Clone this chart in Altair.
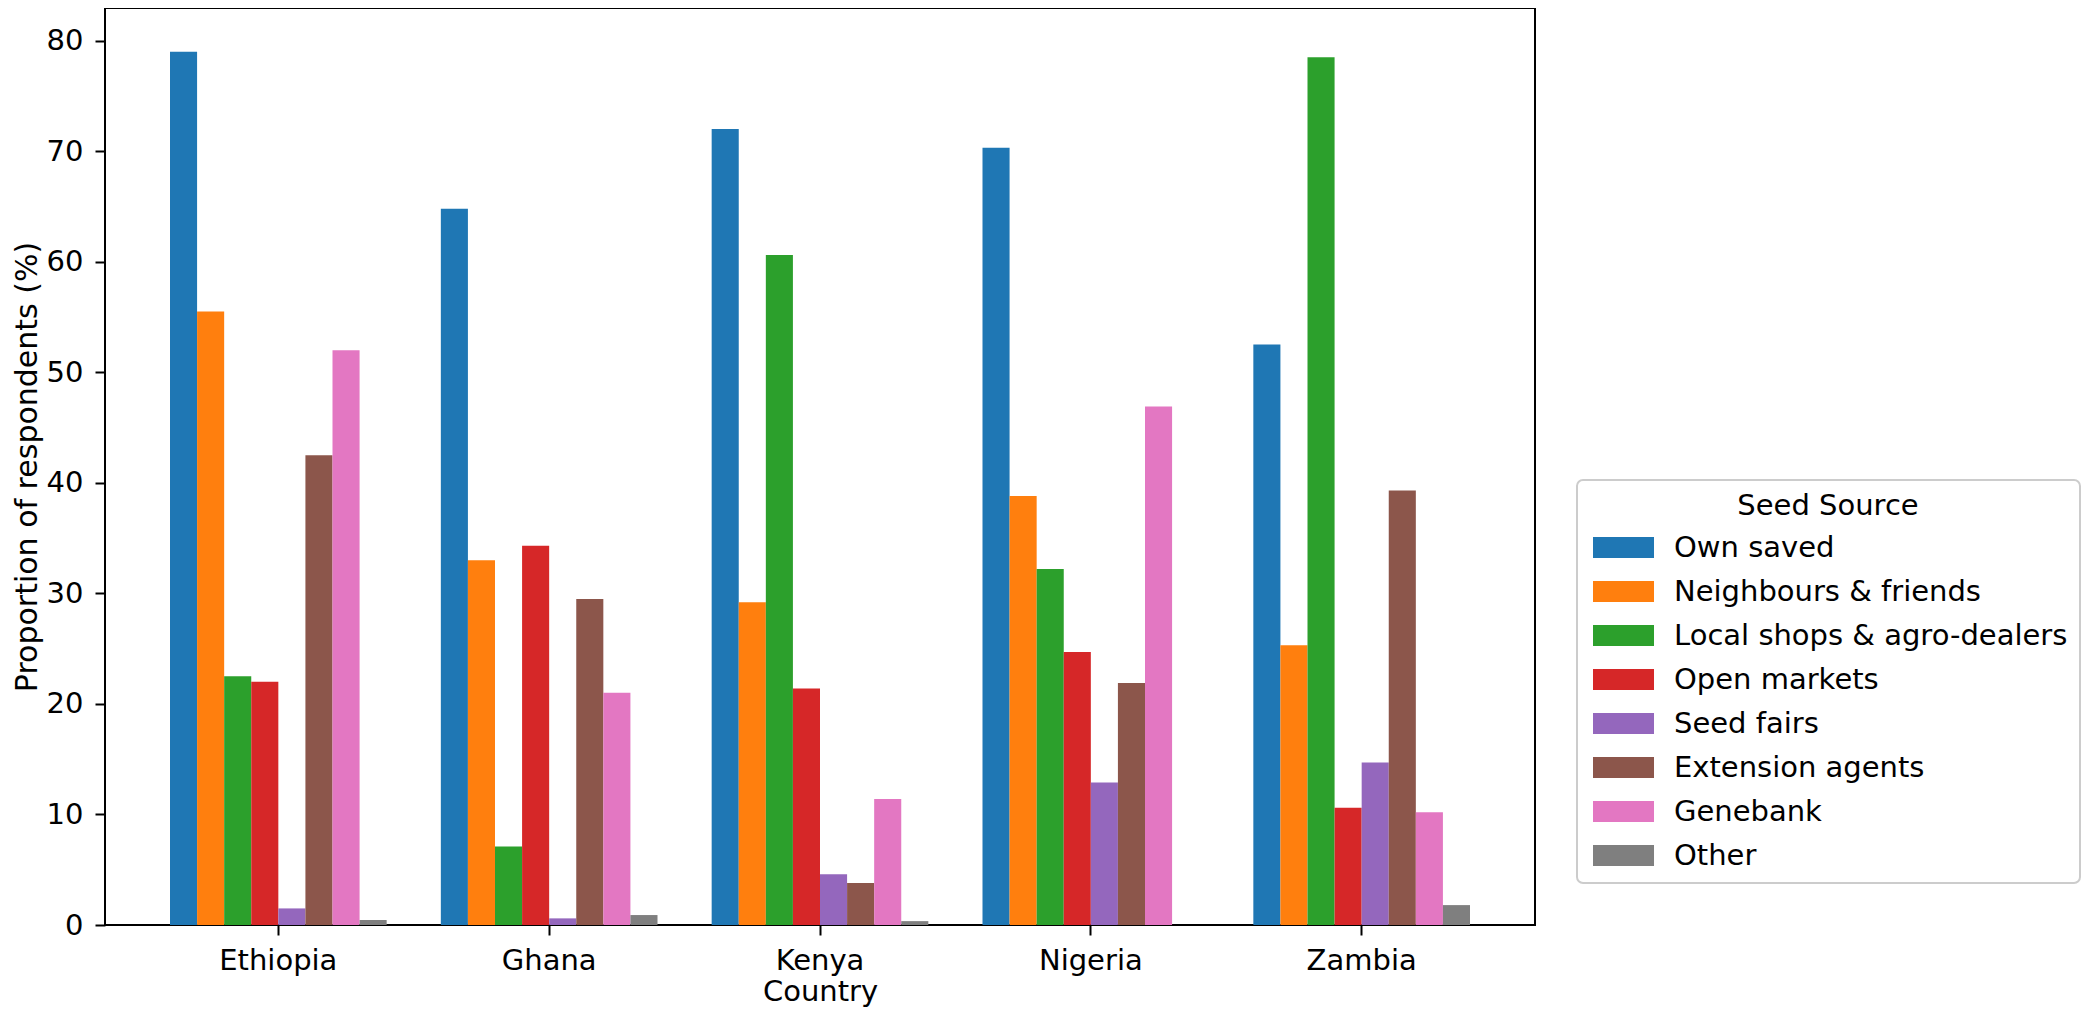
import altair as alt
import pandas as pd

countries = ["Ethiopia", "Ghana", "Kenya", "Nigeria", "Zambia"]
sources = ["Own saved", "Neighbours & friends", "Local shops & agro-dealers",
           "Open markets", "Seed fairs", "Extension agents", "Genebank", "Other"]
colors = ["#1f77b4", "#ff7f0e", "#2ca02c", "#d62728", "#9467bd", "#8c564b", "#e377c2", "#7f7f7f"]

own_saved = [79.0, 64.8, 72.0, 70.3, 52.5]
neighbours = [55.5, 33.0, 29.2, 38.8, 25.3]
local_shops = [22.5, 7.1, 60.6, 32.2, 78.5]
open_markets = [22.0, 34.3, 21.4, 24.7, 10.6]
seed_fairs = [1.5, 0.6, 4.6, 12.9, 14.7]
extension = [42.5, 29.5, 3.8, 21.9, 39.3]
genebank = [52.0, 21.0, 11.4, 46.9, 10.2]
other = [0.45, 0.9, 0.35, 0.0, 1.8]

series = [own_saved, neighbours, local_shops, open_markets, seed_fairs, extension, genebank, other]
rows = []
for s, vals in zip(sources, series):
    for c, v in zip(countries, vals):
        rows.append({"Country": c, "Source": s, "Value": v})
df = pd.DataFrame(rows)

FONT = "DejaVu Sans"
FS = 29

chart = alt.Chart(df).mark_bar(strokeWidth=0).encode(
    x=alt.X("Country:N", sort=countries,
            scale=alt.Scale(paddingInner=0.2, paddingOuter=0.24),
            axis=alt.Axis(title="Country", labelAngle=0, domain=False,
                          tickSize=10, tickWidth=2, tickColor="black",
                          labelPadding=11, labelFontSize=FS, labelFont=FONT,
                          labelColor="black", titleFontSize=FS, titleFont=FONT,
                          titleFontWeight="normal", titleColor="black",
                          titlePadding=2, grid=False)),
    xOffset=alt.XOffset("Source:N", sort=sources,
                        scale=alt.Scale(paddingInner=0, paddingOuter=0)),
    y=alt.Y("Value:Q",
            scale=alt.Scale(domain=[0, 82.95], nice=False, zero=True),
            axis=alt.Axis(title="Proportion of respondents (%)",
                          values=[0, 10, 20, 30, 40, 50, 60, 70, 80],
                          domain=False, tickSize=10, tickWidth=2, tickColor="black",
                          labelPadding=12, labelFontSize=FS, labelFont=FONT,
                          labelColor="black", titleFontSize=30, titleFont=FONT,
                          titleFontWeight="normal", titleColor="black",
                          titlePadding=4, grid=False)),
    color=alt.Color("Source:N", sort=sources,
                    scale=alt.Scale(domain=sources, range=colors),
                    legend=alt.Legend(
                        title="Seed Source", orient="none",
                        legendX=1472, legendY=472,
                        symbolType="M-1,-1L4.81,-1L4.81,1L-1,1Z",
                        symbolSize=441, symbolStrokeWidth=0, symbolOpacity=1,
                        labelFontSize=FS, labelFont=FONT, labelColor="black",
                        labelOffset=56, labelLimit=1000,
                        titleFontSize=FS, titleFont=FONT, titleFontWeight="normal",
                        titleColor="black", titleAnchor="middle", titleAlign="center",
                        titleLimit=1000,
                        titlePadding=12, rowPadding=14, padding=12,
                        strokeColor="#cccccc", cornerRadius=6, fillColor="white",
                    )),
).properties(
    width=1430, height=917,
    autosize=alt.AutoSizeParams(type="none"),
    padding={"left": 97, "top": 0, "right": 557, "bottom": 83},
).configure_view(
    stroke="black", strokeWidth=2
).configure_legend(
    strokeWidth=2
)

chart.save("out.html", embed_options={"renderer": "svg", "actions": False})
